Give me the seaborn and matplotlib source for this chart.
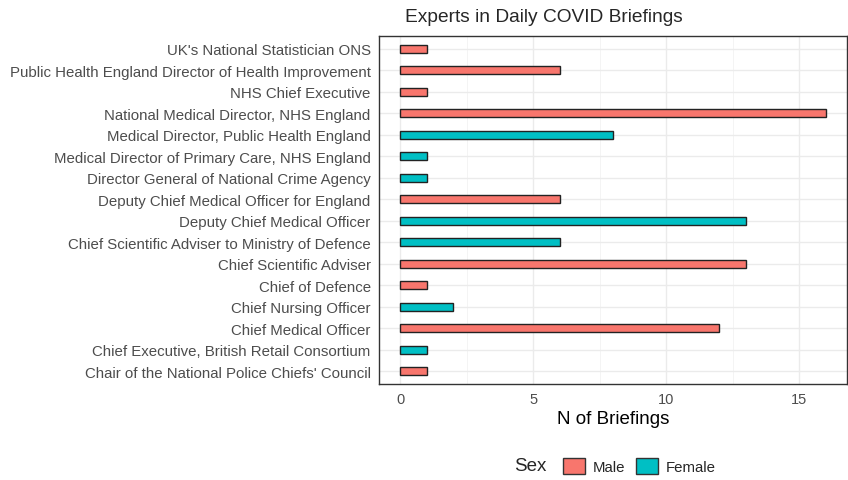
import matplotlib
matplotlib.use("Agg")
import matplotlib.pyplot as plt
from matplotlib.patches import Patch
from matplotlib.ticker import MultipleLocator
import pandas as pd
import seaborn as sns

# data, top to bottom as shown
roles = [
    "UK's National Statistician ONS",
    "Public Health England Director of Health Improvement",
    "NHS Chief Executive",
    "National Medical Director, NHS England",
    "Medical Director, Public Health England",
    "Medical Director of Primary Care, NHS England",
    "Director General of National Crime Agency",
    "Deputy Chief Medical Officer for England",
    "Deputy Chief Medical Officer",
    "Chief Scientific Adviser to Ministry of Defence",
    "Chief Scientific Adviser",
    "Chief of Defence",
    "Chief Nursing Officer",
    "Chief Medical Officer",
    "Chief Executive, British Retail Consortium",
    "Chair of the National Police Chiefs' Council",
]
briefings = [1, 6, 1, 16, 8, 1, 1, 6, 13, 6, 13, 1, 2, 12, 1, 1]
sex = ["Male", "Male", "Male", "Male", "Female", "Female", "Female", "Male",
       "Female", "Female", "Male", "Male", "Female", "Male", "Female", "Male"]
sex_levels = ["Male", "Female"]
sex_colors = {"Male": "#F8766D", "Female": "#00BFC4"}

df = pd.DataFrame({"Role": roles, "N": briefings, "Sex": sex})

sns.set_style("white")
plt.rcParams['font.family'] = ['Liberation Sans', 'DejaVu Sans']

fig = plt.figure(figsize=(8.48, 4.81), dpi=100)
ax = fig.add_axes([379 / 848, 1 - 385 / 481, 468 / 848, 348 / 481])

sns.barplot(data=df, x="N", y="Role", hue="Sex", hue_order=sex_levels,
            palette=sex_colors, dodge=False, width=0.38, order=roles,
            saturation=1, edgecolor="#222222", linewidth=1.0, legend=False,
            ax=ax, zorder=3)

ax.set_xlim(-0.8, 16.8)
ax.set_ylim(len(roles) - 0.4, -0.6)
ax.xaxis.set_major_locator(MultipleLocator(5))
ax.xaxis.set_minor_locator(MultipleLocator(2.5))
ax.grid(which="major", color="#EBEBEB", linewidth=1.0, zorder=0)
ax.grid(which="minor", axis="x", color="#F3F3F3", linewidth=0.6, zorder=0)
ax.set_axisbelow(True)

for s in ax.spines.values():
    s.set_color("#333333")
    s.set_linewidth(1.0)

ax.tick_params(axis="both", which="major", length=4, width=0.8, color="#333333",
               labelcolor="#4D4D4D", pad=2)
ax.tick_params(axis="y", labelsize=10.8)
ax.tick_params(axis="x", labelsize=10.5)
ax.tick_params(axis="x", which="minor", length=0)
ax.set_ylabel("")
ax.set_xlabel("N of Briefings", fontsize=13.5, color="black", labelpad=3)

fig.text(544 / 848, 1 - 17 / 481, "Experts in Daily COVID Briefings",
         ha="center", va="center", fontsize=13.8)

fig.text(514 / 848, 1 - 467 / 481, "Sex", ha="left", va="center", fontsize=13.5)
handles = [Patch(facecolor=sex_colors[k], edgecolor="#333333", linewidth=1.0, label=k)
           for k in sex_levels]
fig.legend(handles=handles, ncol=2, loc="center left",
           bbox_to_anchor=(551 / 848, 1 - 467 / 481), frameon=False,
           fontsize=10.8, handlelength=1.45, handleheight=1.35, handletextpad=0.55,
           columnspacing=0.7, borderpad=0.3)

fig.savefig("out.png", dpi=100)
